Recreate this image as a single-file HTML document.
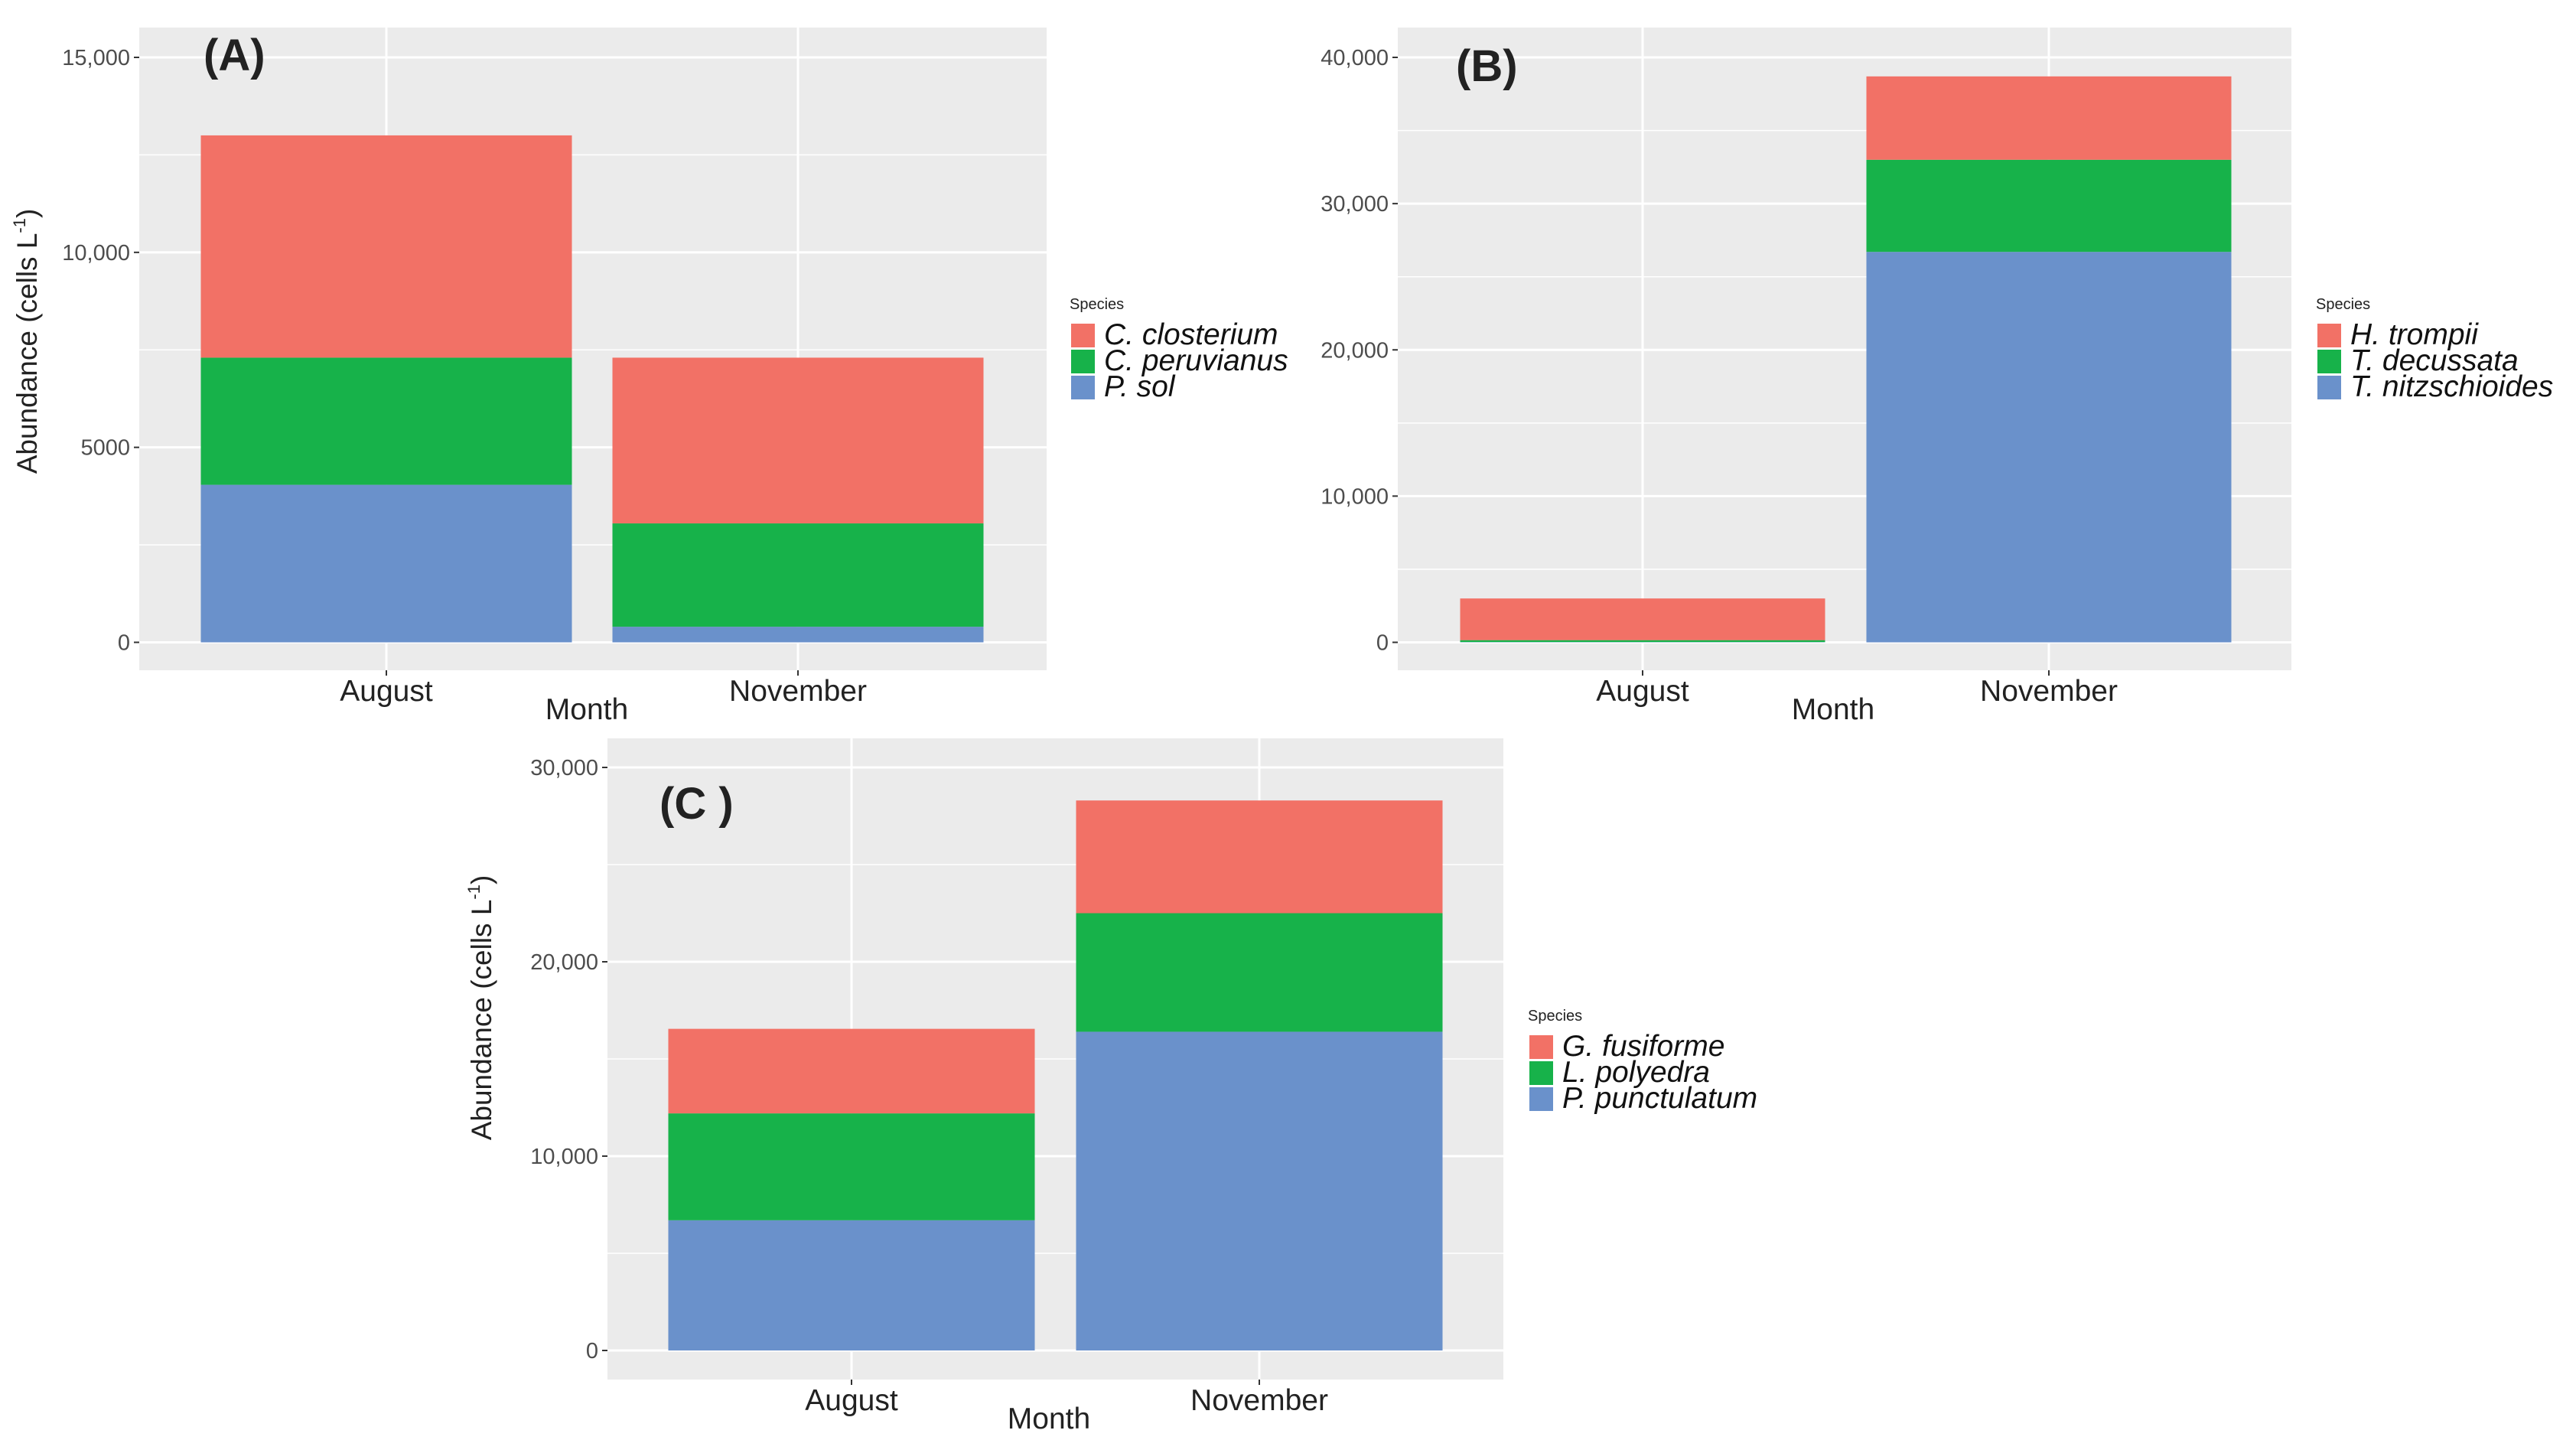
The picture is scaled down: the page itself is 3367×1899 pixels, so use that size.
<!DOCTYPE html>
<html><head><meta charset="utf-8"><style>
html,body{margin:0;padding:0;background:#fff;}
svg{display:block;font-family:"Liberation Sans",sans-serif;}
</style></head><body>
<svg id="fig" width="3367" height="1899" viewBox="0 0 3367 1899" xmlns="http://www.w3.org/2000/svg"></svg>
<script>
const categories = ["August","November"];
// Panel A
const aSpecies = ["C. closterium","C. peruvianus","P. sol"];
const aPsol = [4040, 400];
const aCper = [3260, 2650];
const aCclo = [5700, 4250];
const aTicks = [0,5000,10000,15000];
const aTickLabels = ["0","5000","10,000","15,000"];
// Panel B
const bSpecies = ["H. trompii","T. decussata","T. nitzschioides"];
const bTnit = [20, 26700];
const bTdec = [130, 6300];
const bHtro = [2850, 5700];
const bTicks = [0,10000,20000,30000,40000];
const bTickLabels = ["0","10,000","20,000","30,000","40,000"];
// Panel C
const cSpecies = ["G. fusiforme","L. polyedra","P. punctulatum"];
const cPpun = [6700, 16400];
const cLpol = [5500, 6100];
const cGfus = [4350, 5800];
const cTicks = [0,10000,20000,30000];
const cTickLabels = ["0","10,000","20,000","30,000"];

const colors = ["#6A91CB","#17B24A","#F27166"]; // bottom->top
const svg = document.getElementById('fig');
const NS = "http://www.w3.org/2000/svg";
function mk(tag, attrs, parent){const e=document.createElementNS(NS,tag);for(const k in attrs)e.setAttribute(k,attrs[k]);(parent||svg).appendChild(e);return e;}

function panel(o){
  const g = mk('g',{});
  
  
  const bg = mk('rect',{x:o.x0,y:o.y0,width:o.x1-o.x0,height:o.y1-o.y0,fill:'#EBEBEB'},g);
  
  
  const ys = v => o.zeroY - (v/o.vmax)*(o.zeroY-o.topY);
  const step = o.ticks[1]-o.ticks[0];
  for(let i=0;i<o.ticks.length;i++){
    const mv = o.ticks[i]+step/2; const yy=ys(mv);
    if(yy>o.y0 && yy<o.y1){const l=mk('line',{x1:o.x0,x2:o.x1,y1:yy,y2:yy,stroke:'#fff','stroke-width':1.5},g);
      }
  }
  o.ticks.forEach((t,i)=>{
    const yy=ys(t);
    const l=mk('line',{x1:o.x0,x2:o.x1,y1:yy,y2:yy,stroke:'#fff','stroke-width':3},g);
    
    const tk=mk('line',{x1:o.x0-7,x2:o.x0,y1:yy,y2:yy,stroke:'#333','stroke-width':2},g);
    
    const tx=mk('text',{x:o.x0-12,y:yy+10,'text-anchor':'end','font-size':29,fill:'#4d4d4d'},g);
    tx.textContent=o.tickLabels[i];
    
  });
  const bw = o.bw;
  categories.forEach((c,i)=>{
    const cx=o.cx[i];
    const vl=mk('line',{x1:cx,x2:cx,y1:o.y0,y2:o.y1,stroke:'#fff','stroke-width':3},g);
    
    const tk=mk('line',{x1:cx,x2:cx,y1:o.y1,y2:o.y1+7,stroke:'#333','stroke-width':2},g);
    
    let base=0;
    o.series.forEach((s,k)=>{
      const v=s[i]; const yT=ys(base+v), yB=ys(base);
      const r=mk('rect',{x:cx-bw/2,y:yT,width:bw,height:Math.max(0,yB-yT),fill:colors[k]},g);
      
      
      base+=v;
    });
    const xl=mk('text',{x:cx,y:o.y1+40,'text-anchor':'middle','font-size':39,fill:'#222'},g);
    xl.textContent=c;
    
  });
  const mt=mk('text',{x:o.monthX,y:o.y1+64,'text-anchor':'middle','font-size':39,fill:'#222'},g);
  mt.textContent='Month';
  
  const pl=mk('text',{x:o.labX,y:o.labY,'font-size':58,'font-weight':'bold',fill:'#222'},g);
  pl.textContent=o.label;
  
  if(o.yTitle){
    const yt=mk('text',{x:0,y:0,'text-anchor':'middle','font-size':37,fill:'#222',transform:`translate(${o.yTitle[0]+22},${o.yTitle[1]}) rotate(-90)`},g);
    yt.innerHTML='Abundance (cells L<tspan font-size="22" dy="-15">-1</tspan><tspan dy="15">)</tspan>';
    
  }
  const lt=mk('text',{x:o.legX,y:o.legY,'font-size':20,fill:'#222'},g);
  lt.textContent='Species';
  
  o.sp.forEach((s,k)=>{
    const ry=o.legY+19+k*34;
    const kr=mk('rect',{x:o.legX+2,y:ry,width:31,height:31,fill:colors[2-k]},g);
    
    const kt=mk('text',{x:o.legX+45,y:ry+27,'font-size':39,'font-style':'italic',fill:'#111'},g);
    kt.textContent=s;
    
  });
}

panel({id:'panel-a',x0:182,x1:1368,y0:36,y1:876,zeroY:839.5,topY:75,vmax:15000,ticks:aTicks,tickLabels:aTickLabels,
  cx:[505,1043],bw:485,series:[aPsol,aCper,aCclo],sp:aSpecies,monthX:767,labX:266,labY:92,label:'(A)',
  yTitle:[26,446],legX:1398,legY:404});
panel({id:'panel-b',x0:1827,x1:2995,y0:36,y1:876,zeroY:839.5,topY:75,vmax:40000,ticks:bTicks,tickLabels:bTickLabels,
  cx:[2147,2678],bw:477,series:[bTnit,bTdec,bHtro],sp:bSpecies,monthX:2396,labX:1903,labY:106,label:'(B)',
  yTitle:null,legX:3027,legY:404});
panel({id:'panel-c',x0:794,x1:1965,y0:965,y1:1803,zeroY:1765,topY:1003,vmax:30000,ticks:cTicks,tickLabels:cTickLabels,
  cx:[1113,1646],bw:479,series:[cPpun,cLpol,cGfus],sp:cSpecies,monthX:1371,labX:862,labY:1070,label:'(C )',
  yTitle:[620,1317],legX:1997,legY:1334});
</script>
</body></html>
